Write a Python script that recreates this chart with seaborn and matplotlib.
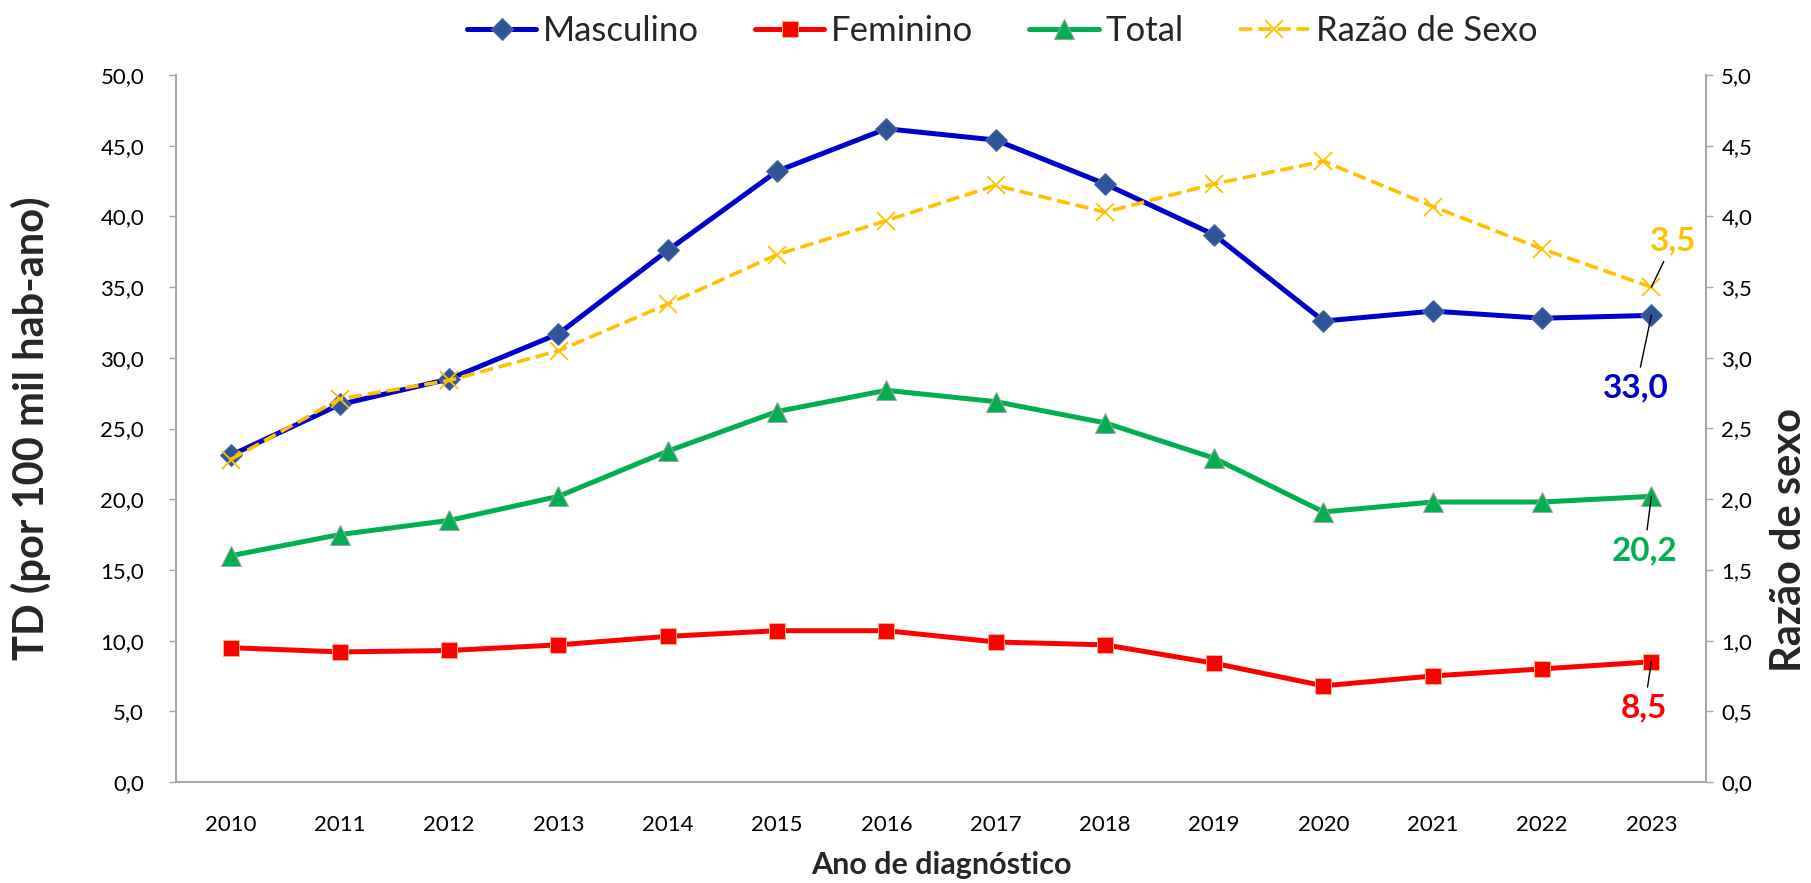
import numpy as np
import pandas as pd
import matplotlib
matplotlib.use("Agg")
import matplotlib.pyplot as plt
from matplotlib.ticker import FuncFormatter, MultipleLocator
import seaborn as sns

# Taxa de deteccao por sexo e razao de sexo, 2010-2023
anos = ['2010', '2011', '2012', '2013', '2014', '2015', '2016',
        '2017', '2018', '2019', '2020', '2021', '2022', '2023']
masculino = [23.1, 26.7, 28.5, 31.7, 37.6, 43.2, 46.2, 45.4, 42.3, 38.7, 32.6, 33.3, 32.8, 33.0]
feminino = [9.5, 9.2, 9.3, 9.7, 10.3, 10.7, 10.7, 9.9, 9.7, 8.4, 6.8, 7.5, 8.0, 8.5]
total = [16.0, 17.5, 18.5, 20.2, 23.4, 26.2, 27.7, 26.9, 25.4, 22.9, 19.1, 19.8, 19.8, 20.2]
razao = [2.28, 2.71, 2.84, 3.05, 3.38, 3.73, 3.97, 4.22, 4.03, 4.23, 4.39, 4.07, 3.77, 3.5]

df = pd.DataFrame({'pos': np.arange(len(anos)), 'ano': anos,
                   'masc': masculino, 'fem': feminino, 'total': total, 'razao': razao})

sns.set_style("white")
plt.rcParams['font.family'] = ['Lato', 'DejaVu Sans']

fig = plt.figure(figsize=(18.11, 8.83), dpi=100)
ax = fig.add_axes([176 / 1811, 1 - 782 / 883, 1530 / 1811, 707 / 883])
ax2 = ax.twinx()

sns.lineplot(data=df, x='pos', y='masc', ax=ax, color='#0000CC', lw=3.6,
             marker='D', markersize=11, markerfacecolor='#2F5597',
             markeredgecolor='#4A6FB0', label='Masculino')
sns.lineplot(data=df, x='pos', y='fem', ax=ax, color='#FF0000', lw=3.6,
             marker='s', markersize=12, markerfacecolor='#FF0000',
             markeredgecolor='#F4B183', label='Feminino')
sns.lineplot(data=df, x='pos', y='total', ax=ax, color='#00B050', lw=3.6,
             marker='^', markersize=14, markerfacecolor='#00B050',
             markeredgecolor='#A0A0A0', label='Total')
sns.lineplot(data=df, x='pos', y='razao', ax=ax2, color='#FFC000', lw=2.6,
             linestyle='--', marker='x', markersize=13, markeredgewidth=1.3,
             markeredgecolor='#FFC000', label='Razão de Sexo')

comma = FuncFormatter(lambda v, p: f"{v:.1f}".replace('.', ','))

ax.set_xlim(-0.5, len(anos) - 0.5)
ax.set_ylim(0, 50)
ax2.set_ylim(0, 5)
ax.yaxis.set_major_locator(MultipleLocator(5))
ax2.yaxis.set_major_locator(MultipleLocator(0.5))
ax.yaxis.set_major_formatter(comma)
ax2.yaxis.set_major_formatter(comma)

ax.set_xticks(df['pos'])
ax.set_xticklabels(anos)
ax.set_xticks(np.arange(-0.5, len(anos), 1), minor=True)

gray = '#A6A6A6'
for a in (ax, ax2):
    a.spines['top'].set_visible(False)
    for s in ('left', 'right', 'bottom'):
        a.spines[s].set_color(gray)
        a.spines[s].set_linewidth(1.3)
    a.grid(False)

ax.tick_params(axis='x', which='major', length=0, pad=24, labelsize=16, colors='black')
ax.tick_params(axis='x', which='minor', length=6, width=1, color=gray, direction='out')
ax.tick_params(axis='y', length=5, width=1, color=gray, direction='out', pad=18,
               labelsize=16, labelcolor='black', left=True)
ax2.tick_params(axis='y', length=5, width=1, color=gray, direction='out', pad=6,
                labelsize=16, labelcolor='black', right=True)

ax.set_xlabel('Ano de diagnóstico', fontsize=22, fontweight='bold')
ax.xaxis.set_label_coords(0.5, -0.097)
ax.set_ylabel('TD (por 100 mil hab-ano)', fontsize=30, fontweight='bold')
ax.yaxis.set_label_coords(-0.082, 0.5)
ax2.set_ylabel('Razão de sexo', fontsize=30, fontweight='bold')
ax2.yaxis.set_label_coords(1.042, 0.342)

# rotulos do ultimo ano
last = len(anos) - 1
line = dict(arrowstyle='-', color='black', lw=1, shrinkA=2, shrinkB=0)
fmt = lambda v: f"{v:.1f}".replace('.', ',')
ax.annotate(fmt(masculino[last]), xy=(last, masculino[last]),
            xytext=(-11, -52), textcoords='offset points', ha='center', va='center',
            fontsize=24, fontweight='bold', color='#0000CC', arrowprops=line)
ax.annotate(fmt(total[last]), xy=(last, total[last]),
            xytext=(-5, -39), textcoords='offset points', ha='center', va='center',
            fontsize=24, fontweight='bold', color='#00B050', arrowprops=line)
ax.annotate(fmt(feminino[last]), xy=(last, feminino[last]),
            xytext=(-5, -33), textcoords='offset points', ha='center', va='center',
            fontsize=24, fontweight='bold', color='#FF0000', arrowprops=line)
ax2.annotate(fmt(razao[last]), xy=(last, razao[last]),
             xytext=(16, 33), textcoords='offset points', ha='center', va='center',
             fontsize=24, fontweight='bold', color='#FFC000', arrowprops=line)

h1, l1 = ax.get_legend_handles_labels()
h2, l2 = ax2.get_legend_handles_labels()
for a in (ax, ax2):
    if a.get_legend():
        a.get_legend().remove()
fig.legend(h1 + h2, l1 + l2, loc='upper center', bbox_to_anchor=(1002 / 1811, 1.018),
           ncol=4, frameon=False, fontsize=25, handlelength=2.0, columnspacing=1.6,
           handletextpad=0.2)

fig.savefig('out.png', dpi=100)
